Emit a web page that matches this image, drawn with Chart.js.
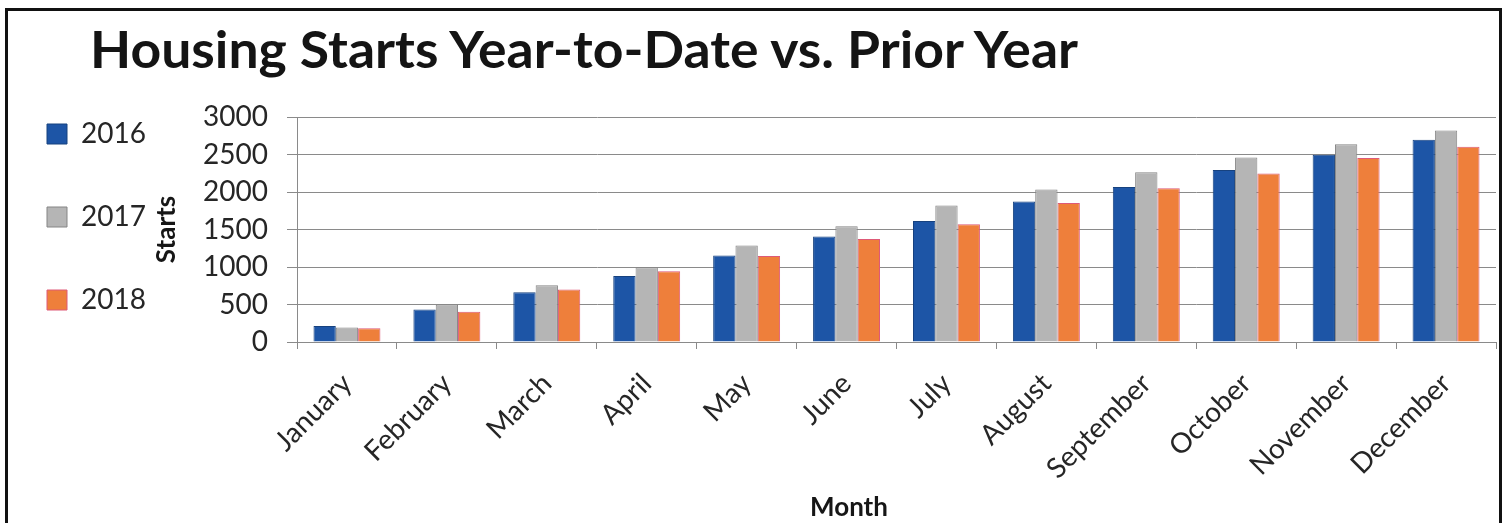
<!DOCTYPE html>
<html>
<head>
<meta charset="utf-8">
<script src="https://cdn.jsdelivr.net/npm/chart.js@4.4.1/dist/chart.umd.min.js"></script>
<style>
  html, body { margin: 0; padding: 0; background: #fff; }
  body { width: 1510px; height: 523px; position: relative; overflow: hidden; font-family: Lato, sans-serif; }
  #chart { position: absolute; left: 0; top: 0; }
  #frame { position: absolute; left: 5px; top: 8px; width: 1497px; height: 540px; border: 3px solid #111; pointer-events: none; box-sizing: border-box; }
  #title { position: absolute; left: 90px; top: 23px; font: bold 51px/51px Lato, sans-serif; color: #141414; white-space: nowrap; transform-origin: 0 0; }
  #xtitle { position: absolute; left: 749px; width: 200px; top: 493px; text-align: center; font: bold 26px/26px Lato, sans-serif; color: #161616; }
</style>
</head>
<body>
<canvas id="chart" width="1510" height="523"></canvas>
<div id="title">Housing Starts Year-to-Date vs. Prior Year</div>
<div id="xtitle">Month</div>
<div id="frame"></div>
<script>
const months = ['January', 'February', 'March', 'April', 'May', 'June', 'July', 'August', 'September', 'October', 'November', 'December'];
const seriesNames = ['2016', '2017', '2018'];
const starts2016 = [212, 433, 664, 880, 1155, 1408, 1615, 1872, 2066, 2292, 2497, 2696];
const starts2017 = [195, 500, 757, 996, 1288, 1544, 1819, 2032, 2262, 2461, 2637, 2820];
const starts2018 = [185, 402, 699, 943, 1146, 1372, 1571, 1854, 2049, 2248, 2452, 2603];
const yMin = 0, yMax = 3000, yStep = 500;
const yAxisTitle = 'Starts';

// fit the title width to the reference (condensed look)
(function () {
  const t = document.getElementById('title');
  const w = t.getBoundingClientRect().width;
  if (w > 0) t.style.transform = 'scaleX(' + (988 / w) + ')';
})();

// legend geometry
const LEG_FONT = 28, LEG_BOX = 20, LEG_PAD = 55;
const mctx = document.createElement('canvas').getContext('2d');
mctx.font = LEG_FONT + 'px Lato';
const legTextW = Math.max(...seriesNames.map(s => mctx.measureText(s).width));
const legendW = LEG_PAD + LEG_BOX + LEG_FONT / 2 + legTextW + 10;
const padLeft = Math.round(100 - legendW);
const AXIS_X = 297;

const legendPlace = {
  id: 'legendPlace',
  afterLayout(chart) {
    const lg = chart.legend;
    if (!lg) return;
    const w = lg.right - lg.left, h = lg.bottom - lg.top;
    lg.left = -8; lg.right = -8 + w;
    lg.top = 65; lg.bottom = 65 + h;
  }
};

const txt = '#262626';
const gridCol = '#8a8a8a';

new Chart(document.getElementById('chart'), {
  type: 'bar',
  data: {
    labels: months,
    datasets: [
      { label: seriesNames[0], data: starts2016, backgroundColor: '#1d55a6', borderColor: '#17427f', borderWidth: 1 },
      { label: seriesNames[1], data: starts2017, backgroundColor: '#b5b5b5', borderColor: '#858585', borderWidth: 1 },
      { label: seriesNames[2], data: starts2018, backgroundColor: '#ee7f3b', borderColor: '#de5a78', borderWidth: 1 }
    ]
  },
  options: {
    responsive: false,
    animation: false,
    datasets: { bar: { categoryPercentage: 0.67, barPercentage: 1.0 } },
    layout: { padding: { left: padLeft, right: 14, top: 117, bottom: 0 } },
    plugins: {
      title: { display: false },
      tooltip: { enabled: false },
      legend: {
        position: 'left', align: 'start', fullSize: true,
        labels: { boxWidth: LEG_BOX, boxHeight: LEG_BOX, padding: LEG_PAD, color: txt, font: { family: 'Lato', size: LEG_FONT } }
      }
    },
    scales: {
      x: {
        grid: { display: true, drawOnChartArea: false, drawTicks: true, tickLength: 7, color: gridCol, offset: true },
        border: { display: true, color: gridCol, width: 1 },
        ticks: { autoSkip: false, minRotation: 45, maxRotation: 45, padding: 18, color: txt, font: { family: 'Lato', size: 28 } },
        afterFit(s) { s.height = 181; }
      },
      y: {
        min: yMin, max: yMax,
        ticks: { stepSize: yStep, padding: 19, color: txt, font: { family: 'Lato', size: 28 }, callback: (v) => String(v) },
        grid: { color: gridCol, tickLength: 10, drawTicks: true },
        border: { display: true, color: gridCol, width: 1 },
        title: { display: true, text: yAxisTitle, color: '#161616', font: { family: 'Lato', size: 26, weight: 'bold' }, padding: { top: 51, bottom: 0 } },
        afterFit(s) {
          const lg = s.chart.legend;
          const lw = lg && lg.width ? lg.width : legendW;
          s.width = AXIS_X - padLeft - lw;
        }
      }
    }
  },
  plugins: [legendPlace]
});
</script>
</body>
</html>
